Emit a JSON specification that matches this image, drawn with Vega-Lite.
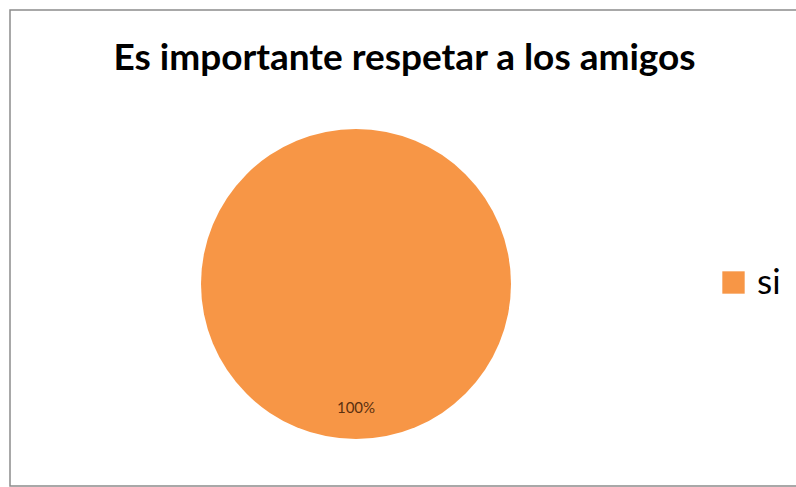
{
  "$schema": "https://vega.github.io/schema/vega-lite/v6.json",
  "width": 796,
  "height": 487,
  "autosize": {"type": "fit", "contains": "padding"},
  "padding": {"left": 10, "top": 10, "right": -3, "bottom": 1},
  "background": "white",
  "view": {"stroke": "#8c8c8c", "strokeWidth": 1.5, "fill": "white"},
  "title": {
    "text": "Es importante respetar a los amigos",
    "font": "Lato",
    "fontSize": 37,
    "fontWeight": "bold",
    "color": "#000000",
    "anchor": "middle",
    "frame": "group",
    "offset": -68
  },
  "data": {"values": [{"respuesta": "si", "proporcion": 1.0}]},
  "encoding": {
    "theta": {"field": "proporcion", "type": "quantitative", "stack": true},
    "color": {
      "field": "respuesta",
      "type": "nominal",
      "scale": {"range": ["#F79646"]},
      "legend": {
        "title": null,
        "orient": "none",
        "legendX": 706,
        "legendY": 255,
        "symbolType": "square",
        "symbolSize": 500,
        "symbolStrokeWidth": 0,
        "symbolOpacity": 1,
        "labelFont": "Lato",
        "labelFontSize": 35,
        "labelColor": "#000000",
        "labelOffset": 6
      }
    }
  },
  "layer": [
    {"mark": {"type": "arc", "radius": 155, "xOffset": -48.5, "yOffset": 36}},
    {
      "mark": {"type": "text", "radius": 124, "xOffset": -48.5, "yOffset": 36, "font": "Lato", "fontSize": 15},
      "encoding": {
        "text": {"field": "proporcion", "type": "quantitative", "format": ".0%"},
        "color": {"value": "#5a3010"}
      }
    }
  ]
}
